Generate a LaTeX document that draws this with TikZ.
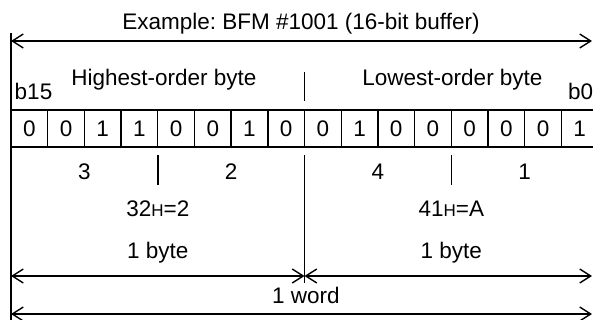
\documentclass[tikz,border=0pt]{standalone}
\usepackage{fontspec}
\setmainfont{Liberation Sans}
\usetikzlibrary{arrows.meta}
\frenchspacing
\begin{document}
\begin{tikzpicture}[x=1pt,y=-1pt,
  ln/.style={line width=1.4pt},
  dimline/.style={line width=1.4pt,{Straight Barb[length=11pt,width=14pt]}-{Straight Barb[length=11pt,width=14pt]}},
  txt/.style={font=\fontsize{22.5}{26}\selectfont,anchor=base,inner sep=0pt},
  ]
\useasboundingbox (0,0) rectangle (593,320);
% coordinates
\coordinate (Ltop) at (11,33);
\coordinate (Lbot) at (11,320);
\coordinate (TA1) at (11,41);
\coordinate (TA2) at (592,41);
\coordinate (Mtop1) at (304.5,72);
\coordinate (Mtop2) at (304.5,101);
\coordinate (Mlow1) at (304.5,155);
\coordinate (Mlow2) at (304.5,283);
\coordinate (D1a) at (157.8,155);
\coordinate (D1b) at (157.8,185);
\coordinate (D2a) at (451.3,155);
\coordinate (D2b) at (451.3,185);
\coordinate (BA1) at (11,276);
\coordinate (BAm) at (304.5,276);
\coordinate (BA2) at (592,276);
\coordinate (WA1) at (11,314);
\coordinate (WA2) at (592,314);
\coordinate (TabTL) at (11,110);
\coordinate (TabTR) at (598,110);
\coordinate (TabBL) at (11,147);
\coordinate (TabBR) at (598,147);

% title
\node[txt] (title) at (301,29.5) {Example: BFM \#1001 (16-bit buffer)};
\draw[dimline] (TA1) -- (TA2);
\draw[ln] (Ltop) -- (Lbot);

% byte labels
\node[txt] (hob) at (164,86) {Highest-order byte};
\node[txt] (lob) at (452.5,86) {Lowest-order byte};
\node[txt] (b15) at (33.5,100) {b15};
\node[txt] (b0) at (580.7,100) {b0};
\draw[ln] (Mtop1) -- (Mtop2);

% table
\draw[ln] (TabTL) -- (TabTR);
\draw[ln] (TabBL) -- (TabBR);
\foreach \i in {1,...,15} {
  \coordinate (v\i a) at ({11+36.69*\i},110);
  \coordinate (v\i b) at ({11+36.69*\i},147);
  \draw[ln] (v\i a) -- (v\i b);
}
\foreach \b [count=\i from 0] in {0,0,1,1,0,0,1,0,0,1,0,0,0,0,0,1} {
  \node[txt] (c\i) at ({11+36.69*(\i+0.5)},136.5) {\b};
}

% nibble row
\draw[ln] (Mlow1) -- (Mlow2);
\draw[ln] (D1a) -- (D1b);
\draw[ln] (D2a) -- (D2b);
\node[txt] (n3) at (84.4,179) {3};
\node[txt] (n2) at (231.2,179) {2};
\node[txt] (n4) at (377.9,179) {4};
\node[txt] (n1) at (524.7,179) {1};

% hex values
\node[txt] (hx1) at (157.8,216) {32{\fontsize{17}{20}\selectfont H}=2};
\node[txt] (hx2) at (451.3,216) {41{\fontsize{17}{20}\selectfont H}=A};

% byte dims
\node[txt] (by1) at (157.8,258) {1 byte};
\node[txt] (by2) at (451.3,258) {1 byte};
\draw[dimline] (BA1) -- (BAm);
\draw[dimline] (BAm) -- (BA2);

% word dim
\node[txt] (wd) at (306,303) {1 word};
\draw[dimline] (WA1) -- (WA2);
\end{tikzpicture}
\end{document}
